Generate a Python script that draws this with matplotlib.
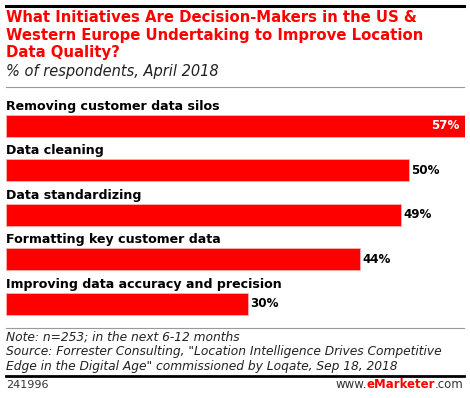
import matplotlib
matplotlib.use("Agg")
import matplotlib.pyplot as plt
from matplotlib.lines import Line2D

# Chart data
categories = [
    "Removing customer data silos",
    "Data cleaning",
    "Data standardizing",
    "Formatting key customer data",
    "Improving data accuracy and precision",
]
values = [57, 50, 49, 44, 30]

title = ("What Initiatives Are Decision-Makers in the US &\n"
         "Western Europe Undertaking to Improve Location\n"
         "Data Quality?")
subtitle = "% of respondents, April 2018"
note = ("Note: n=253; in the next 6-12 months\n"
        "Source: Forrester Consulting, \"Location Intelligence Drives Competitive\n"
        "Edge in the Digital Age\" commissioned by Loqate, Sep 18, 2018")
chart_id = "241996"

W, H = 470, 398
RED = "#ff0000"

fig = plt.figure(figsize=(W / 100, H / 100), dpi=100)
fig.patch.set_facecolor("white")


def fx(px):
    return px / W


def fy(py):
    return 1 - py / H


# rules
fig.add_artist(Line2D([fx(6), fx(464)], [fy(6), fy(6)], color="black", lw=2.2))
fig.add_artist(Line2D([fx(6), fx(464)], [fy(87), fy(87)], color="#999999", lw=0.8))
fig.add_artist(Line2D([fx(6), fx(464)], [fy(328), fy(328)], color="#999999", lw=0.8))
fig.add_artist(Line2D([fx(6), fx(464)], [fy(376), fy(376)], color="black", lw=2.0))

# title and subtitle
fig.text(fx(6), fy(10.5), title, color=RED, fontsize=10.7, fontweight="heavy",
         va="top", ha="left", linespacing=1.2)
fig.text(fx(6), fy(64), subtitle, fontsize=10.5, style="italic", color="#222222",
         va="top", ha="left")

# bars
top_px, bot_px = 92.7, 325.8
ax = fig.add_axes([fx(6), fy(bot_px), fx(465) - fx(6), (bot_px - top_px) / H])
y = list(range(len(categories)))
ax.barh(y, values, height=0.5, color=RED, edgecolor="#ffb0b0", linewidth=0.6)
ax.set_xlim(0, 57)
ax.set_ylim(4.5, -0.75)
ax.axis("off")

for i, (cat, v) in enumerate(zip(categories, values)):
    ax.text(0, i - 0.44, cat, fontsize=9.1, fontweight="bold", va="center",
            ha="left", color="black")
    if i == 0:
        ax.text(v - 0.7, i, f"{v}%", fontsize=8.6, fontweight="bold",
                va="center", ha="right", color="white")
    else:
        ax.text(v + 0.3, i, f"{v}%", fontsize=8.6, fontweight="bold",
                va="center", ha="left", color="black")

# footer
fig.text(fx(6), fy(331), note, fontsize=8.8, style="italic", color="#222222",
         va="top", ha="left", linespacing=1.15)
fig.text(fx(6), fy(385), chart_id, fontsize=8, color="#333333", va="center", ha="left")

# eMarketer wordmark
t1 = fig.text(fx(360), fy(385), "www.", fontsize=8.5, color="#333333", va="center", ha="left")
fig.canvas.draw()
r = fig.canvas.get_renderer()
bb = t1.get_window_extent(r)
t2 = fig.text(bb.x1 / W, fy(385), "eMarketer", fontsize=8.5, color=RED,
              fontweight="bold", va="center", ha="left")
bb2 = t2.get_window_extent(r)
t3 = fig.text(bb2.x1 / W, fy(385), ".com", fontsize=8.5, color="#333333",
              va="center", ha="left")
bb3 = t3.get_window_extent(r)
shift = (464 - bb3.x1) / W
for t in (t1, t2, t3):
    x0, y0 = t.get_position()
    t.set_position((x0 + shift, y0))

fig.savefig("out.png", dpi=100)
